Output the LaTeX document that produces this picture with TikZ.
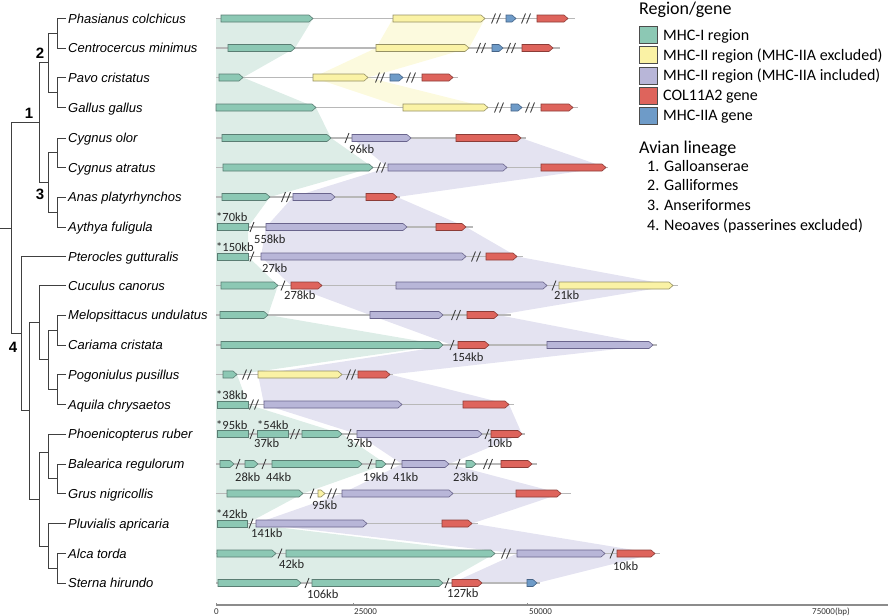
\documentclass[tikz,border=0pt]{standalone}
\usepackage{fontspec}
\setmainfont{Carlito}
\newfontfamily\namefont{Liberation Sans}
\definecolor{cG}{RGB}{140,200,180}
\definecolor{cGd}{RGB}{90,125,115}
\definecolor{cY}{RGB}{250,242,165}
\definecolor{cYd}{RGB}{150,145,100}
\definecolor{cP}{RGB}{184,182,216}
\definecolor{cPd}{RGB}{105,100,140}
\definecolor{cR}{RGB}{222,100,92}
\definecolor{cRd}{RGB}{140,60,55}
\definecolor{cB}{RGB}{110,155,200}
\definecolor{cBd}{RGB}{70,100,135}
\definecolor{sG}{RGB}{221,237,231}
\definecolor{sY}{RGB}{252,250,222}
\definecolor{sP}{RGB}{228,227,241}
\newcommand\garr[4]{\path[#1] (#2,#4-3.5) -- (#3-4,#4-3.5) -- (#3,#4) -- (#3-4,#4+3.5) -- (#2,#4+3.5) -- cycle;}
\newcommand\grect[3]{\path[gG] (#1,#3-3.5) rectangle (#2,#3+3.5);}
\newcommand\bbone[3]{\draw[bb] (#1,#3) -- (#2,#3);}
\newcommand\brk[2]{\draw[brkst] (#1-2,#2+5) -- (#1+2,#2-5);}
\newcommand\dbrk[2]{\draw[brkst] (#1-4.5,#2+5) -- (#1-0.5,#2-5) (#1+0.5,#2+5) -- (#1+4.5,#2-5);}
\newcommand\kbl[4]{\node[kbst] (#1) at (#2,#3) {#4};}
\begin{document}
\begin{tikzpicture}[x=1pt,y=-1pt,
  bb/.style={draw=black!28, line width=1.3},
  brkst/.style={draw=black!75, line width=0.9},
  gG/.style={fill=cG, draw=cGd, line width=0.6},
  gY/.style={fill=cY, draw=cYd, line width=0.6},
  gP/.style={fill=cP, draw=cPd, line width=0.6},
  gR/.style={fill=cR, draw=cRd, line width=0.6},
  gB/.style={fill=cB, draw=cBd, line width=0.6},
  sp/.style={anchor=base west, inner sep=0, font=\namefont\itshape\fontsize{13}{13}\selectfont},
  kbst/.style={anchor=base west, inner sep=0, font=\fontsize{12.5}{12.5}\selectfont, text=black!85},
  tree/.style={draw=black!75, line width=0.9},
  clade/.style={inner sep=0, font=\namefont\bfseries\fontsize{15}{15}\selectfont},
  legbox/.style={draw=black!70, line width=0.7},
  legtxt/.style={anchor=base west, inner sep=0, font=\fontsize{16}{16}\selectfont},
  legtitle/.style={anchor=base west, inner sep=0, font=\fontsize{18}{18}\selectfont},
  axlab/.style={anchor=base west, inner sep=0, font=\fontsize{9}{9}\selectfont, text=black!80},
]
\useasboundingbox (0,0) rectangle (892,616);
% ---------- shaded regions ----------
\fill[sG] (216,18.5) -- (313,18.5) -- (295,48) -- (243,77.5) -- (316,107.5) -- (331,138) -- (373,167.5) -- (270,197) -- (248,227) -- (248,256.5) -- (278,285.5) -- (268,315) -- (443,345) -- (237,374.5) -- (248,404.5) -- (342,434) -- (386,464) -- (303,493.5) -- (247,523.5) -- (495,553.5) -- (443,583) -- (216,583) -- cycle;
\fill[sY] (393,18.5) -- (485,18.5) -- (469,48) -- (368,77.5) -- (488,107.5) -- (403,107.5) -- (313,77.5) -- (376,48) -- cycle;
\fill[sP] (521,138) -- (606,167.5) -- (397,197) -- (466,227) -- (517,256.5) -- (673,285.5) -- (498,315) -- (653,345) -- (390,374.5) -- (509,404.5) -- (522,434) -- (449,464) -- (561,493.5) -- (472,523.5) -- (655,553.5) -- (537,583)
  -- (452,583) -- (517,553.5) -- (256,523.5) -- (342,493.5) -- (402,464) -- (357,434) -- (264,404.5) -- (258,374.5) -- (452,345) -- (370,315) -- (291,285.5) -- (261,256.5) -- (266,227) -- (293,197) -- (388,167.5) -- (352,138) -- cycle;
% ---------- tree ----------
\draw[tree] (66,18.5) -| (57,48) -- (66,48);
\draw[tree] (66,77.5) -| (57,107.5) -- (66,107.5);
\draw[tree] (57,33.25) -| (48,92.5) -- (57,92.5);
\draw[tree] (66,138) -| (57,167.5) -- (66,167.5);
\draw[tree] (66,197) -| (57,227) -- (66,227);
\draw[tree] (57,152.75) -| (48,212) -- (57,212);
\draw[tree] (48,62.9) -| (39,182.4) -- (48,182.4);
\draw[tree] (39,122.6) -| (11,333.6) -- (21,333.6);
\draw[tree] (0,228) -- (11,228);
\draw[tree] (66,256.5) -| (21,410.8) -- (29,410.8);
\draw[tree] (66,285.5) -| (39,359.75) -- (48,359.75);
\draw[tree] (66,315) -| (57,345) -- (66,345);
\draw[tree] (66,374.5) -| (57,404.5) -- (66,404.5);
\draw[tree] (57,330) -| (48,389.5) -- (57,389.5);
\draw[tree] (39,322.6) -| (29,499) -- (39,499);
\draw[tree] (66,434) -| (48,478.75) -- (57,478.75);
\draw[tree] (66,464) -| (57,493.5) -- (66,493.5);
\draw[tree] (48,452) -| (39,546) -- (48,546);
\draw[tree] (66,523.5) -| (48,568.25) -- (57,568.25);
\draw[tree] (66,553.5) -| (57,583) -- (66,583);
\node[clade] (c1) at (29,113) {1};
\node[clade] (c2) at (40,53) {2};
\node[clade] (c3) at (40,194) {3};
\node[clade] (c4) at (13,347) {4};
% ---------- species ----------
\node[sp] (s0) at (68,23.1) {Phasianus colchicus};
\node[sp] (s1) at (68,52.6) {Centrocercus minimus};
\node[sp] (s2) at (68,82.1) {Pavo cristatus};
\node[sp] (s3) at (68,112.1) {Gallus gallus};
\node[sp] (s4) at (68,142.6) {Cygnus olor};
\node[sp] (s5) at (68,172.1) {Cygnus atratus};
\node[sp] (s6) at (68,201.6) {Anas platyrhynchos};
\node[sp] (s7) at (68,231.6) {Aythya fuligula};
\node[sp] (s8) at (68,261.1) {Pterocles gutturalis};
\node[sp] (s9) at (68,290.1) {Cuculus canorus};
\node[sp] (s10) at (68,319.6) {Melopsittacus undulatus};
\node[sp] (s11) at (68,349.6) {Cariama cristata};
\node[sp] (s12) at (68,379.1) {Pogoniulus pusillus};
\node[sp] (s13) at (68,409.1) {Aquila chrysaetos};
\node[sp] (s14) at (68,438.6) {Phoenicopterus ruber};
\node[sp] (s15) at (68,468.6) {Balearica regulorum};
\node[sp] (s16) at (68,498.1) {Grus nigricollis};
\node[sp] (s17) at (68,528.1) {Pluvialis apricaria};
\node[sp] (s18) at (68,558.1) {Alca torda};
\node[sp] (s19) at (68,587.6) {Sterna hirundo};
% ---------- backbones ----------
\bbone{216}{575}{18.5}
\bbone{216}{560}{48}
\bbone{216}{458}{77.5}
\bbone{216}{578}{107.5}
\bbone{216}{526}{138}
\bbone{216}{608}{167.5}
\bbone{216}{400}{197}
\bbone{217}{473}{227}
\bbone{217}{523}{256.5}
\bbone{216}{678}{285.5}
\bbone{216}{511}{315}
\bbone{216}{657}{345}
\bbone{216}{393}{374.5}
\bbone{217}{514}{404.5}
\bbone{217}{525}{434}
\bbone{216}{537}{464}
\bbone{216}{571}{493.5}
\bbone{217}{478}{523.5}
\bbone{216}{660}{553.5}
\bbone{216}{540}{583}
% ---------- row 0 Phasianus ----------
\garr{gG}{221}{313}{18.5} \garr{gY}{393}{485}{18.5} \dbrk{496}{18.5}
\garr{gB}{506}{516}{18.5} \dbrk{526}{18.5} \garr{gR}{537}{568}{18.5}
% row 1
\garr{gG}{228}{295}{48} \garr{gY}{376}{469}{48} \dbrk{481}{48}
\garr{gB}{492}{503}{48} \dbrk{511}{48} \garr{gR}{522}{553}{48}
% row 2
\garr{gG}{219}{243}{77.5} \garr{gY}{313}{368}{77.5} \dbrk{380}{77.5}
\garr{gB}{390}{403}{77.5} \dbrk{411}{77.5} \garr{gR}{422}{453}{77.5}
% row 3
\garr{gG}{216}{316}{107.5} \garr{gY}{403}{488}{107.5} \dbrk{499}{107.5}
\garr{gB}{511}{522}{107.5} \dbrk{530}{107.5} \garr{gR}{541}{573}{107.5}
% row 4 Cygnus olor
\garr{gG}{222}{331}{138} \brk{347}{138} \kbl{k4a}{349}{153.5}{96kb}
\garr{gP}{352}{411}{138} \garr{gR}{456}{521}{138}
% row 5
\garr{gG}{223}{373}{167.5} \dbrk{381}{167.5} \garr{gP}{388}{507}{167.5} \garr{gR}{541}{606}{167.5}
% row 6
\garr{gG}{222}{270}{197} \dbrk{286}{197} \garr{gP}{293}{335}{197} \garr{gR}{366}{397}{197}
% row 7 Aythya
\grect{217}{248}{227} \kbl{k7a}{216}{221}{*70kb} \brk{252}{227} \kbl{k7b}{254}{243}{558kb}
\garr{gP}{266}{407}{227} \garr{gR}{436}{466}{227}
% row 8 Pterocles
\grect{217}{248}{256.5} \kbl{k8a}{216}{251}{*150kb} \brk{252}{256.5} \kbl{k8b}{262}{272}{27kb}
\garr{gP}{261}{466}{256.5} \dbrk{476}{256.5} \garr{gR}{486}{517}{256.5}
% row 9 Cuculus
\garr{gG}{221}{278}{285.5} \brk{283}{285.5} \kbl{k9a}{284}{299.5}{278kb}
\garr{gR}{291}{322}{285.5} \garr{gP}{396}{547}{285.5} \brk{554}{285.5} \kbl{k9b}{554}{299.5}{21kb}
\garr{gY}{559}{673}{285.5}
% row 10 Melopsittacus
\garr{gG}{220}{268}{315} \garr{gP}{370}{443}{315} \dbrk{456}{315} \garr{gR}{467}{498}{315}
% row 11 Cariama
\garr{gG}{221}{443}{345} \brk{452}{345} \kbl{k11a}{452}{361}{154kb}
\garr{gR}{458}{489}{345} \garr{gP}{547}{653}{345}
% row 12 Pogoniulus
\garr{gG}{223}{237}{374.5} \dbrk{247}{374.5} \garr{gY}{258}{342}{374.5} \dbrk{351}{374.5} \garr{gR}{358}{390}{374.5}
% row 13 Aquila
\grect{217}{248}{404.5} \kbl{k13a}{216}{399}{*38kb} \dbrk{254}{404.5}
\garr{gP}{264}{402}{404.5} \garr{gR}{463}{509}{404.5}
% row 14 Phoenicopterus
\grect{217}{248}{434} \kbl{k14a}{216}{429}{*95kb} \brk{252}{434} \kbl{k14b}{254}{447.5}{37kb}
\grect{257}{288}{434} \kbl{k14c}{257}{429}{*54kb} \dbrk{295}{434}
\garr{gG}{302}{342}{434} \brk{349}{434} \kbl{k14d}{347}{447.5}{37kb}
\garr{gP}{357}{482}{434} \brk{487}{434} \kbl{k14e}{487}{447.5}{10kb}
\garr{gR}{491}{522}{434}
% row 15 Balearica
\garr{gG}{220}{234}{464} \brk{238}{464} \kbl{k15a}{235}{481}{28kb}
\garr{gG}{245}{258}{464} \brk{264}{464} \kbl{k15b}{266}{481}{44kb}
\garr{gG}{272}{362}{464} \brk{370}{464} \kbl{k15c}{363}{481}{19kb}
\garr{gG}{376}{386}{464} \brk{393}{464} \kbl{k15d}{393}{481}{41kb}
\garr{gP}{402}{449}{464} \brk{458}{464} \kbl{k15e}{453}{481}{23kb}
\garr{gG}{466}{476}{464} \dbrk{488}{464} \garr{gR}{501}{532}{464}
% row 16 Grus
\garr{gG}{227}{303}{493.5} \brk{312}{493.5} \garr{gY}{318}{325}{493.5} \kbl{k16a}{312}{509}{95kb}
\dbrk{332}{493.5} \garr{gP}{342}{453}{493.5} \garr{gR}{516}{561}{493.5}
% row 17 Pluvialis
\grect{217}{247}{523.5} \kbl{k17a}{216}{518}{*42kb} \brk{251}{523.5} \kbl{k17b}{251}{537.5}{141kb}
\garr{gP}{256}{367}{523.5} \garr{gR}{442}{472}{523.5}
% row 18 Alca
\garr{gG}{217}{276}{553.5} \brk{280}{553.5} \kbl{k18a}{279}{568}{42kb}
\garr{gG}{286}{495}{553.5} \dbrk{506}{553.5} \garr{gP}{517}{605}{553.5}
\brk{612}{553.5} \kbl{k18b}{613}{570}{10kb} \garr{gR}{617}{655}{553.5}
% row 19 Sterna
\garr{gG}{218}{301}{583} \brk{307}{583} \kbl{k19a}{307}{598}{106kb}
\garr{gG}{312}{443}{583} \brk{447}{583} \kbl{k19b}{447}{597}{127kb}
\garr{gR}{452}{482}{583} \garr{gB}{527}{537}{583}
% ---------- axis ----------
\draw[draw=black!45, line width=1.4] (216,605) -- (888,605);
\draw[draw=black!45, line width=0.6] (216,605) -- (216,603) (353,605) -- (353,603) (527,605) -- (527,603);
\node[axlab] (a0) at (214,614.5) {0};
\node[axlab] (a1) at (354,614.5) {25000};
\node[axlab] (a2) at (529,614.5) {50000};
\node[axlab] (a3) at (812,614.5) {75000(bp)};
% ---------- legend ----------
\node[legtitle] (lt) at (639,14) {Region/gene};
\path[legbox, fill=cG] (639,26) rectangle (657,43);
\path[legbox, fill=cY] (639,46.5) rectangle (657,63.5);
\path[legbox, fill=cP] (639,67) rectangle (657,84);
\path[legbox, fill=cR] (639,87) rectangle (657,104);
\path[legbox, fill=cB] (639,107) rectangle (657,124);
\node[legtxt] (l1) at (663,40) {MHC-I region};
\node[legtxt] (l2) at (663,60.5) {MHC-II region (MHC-IIA excluded)};
\node[legtxt] (l3) at (663,80.5) {MHC-II region (MHC-IIA included)};
\node[legtxt] (l4) at (663,100.5) {COL11A2 gene};
\node[legtxt] (l5) at (663,120.5) {MHC-IIA gene};
\node[legtitle] (at) at (639,153) {Avian lineage};
\node[legtxt] (m1) at (647,171.5) {1. Galloanserae};
\node[legtxt] (m2) at (647,190.5) {2. Galliformes};
\node[legtxt] (m3) at (647,210.5) {3. Anseriformes};
\node[legtxt] (m4) at (647,230.5) {4. Neoaves (passerines excluded)};
\end{tikzpicture}
\end{document}
